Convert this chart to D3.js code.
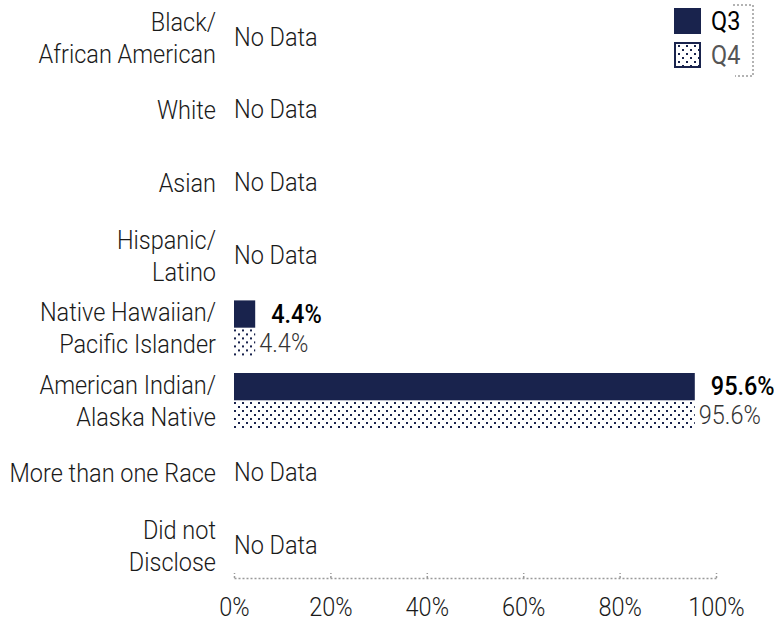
<!DOCTYPE html>
<html>
<head>
<meta charset="utf-8">
<script src="https://cdn.jsdelivr.net/npm/d3@7"></script>
<style>
  html, body { margin: 0; padding: 0; background: #fff; }
  svg { display: block; }
  text { font-family: Roboto, "Open Sans", sans-serif; }
</style>
</head>
<body>
<svg id="chart" width="774" height="622"></svg>
<script>
// Race / ethnicity breakdown, two quarters side by side
const categories = [
  "Black/\nAfrican American",
  "White",
  "Asian",
  "Hispanic/\nLatino",
  "Native Hawaiian/\nPacific Islander",
  "American Indian/\nAlaska Native",
  "More than one Race",
  "Did not\nDisclose"
];
const seriesNames = ["Q3", "Q4"];
const q3Values = [null, null, null, null, 4.4, 95.6, null, null];
const q4Values = [null, null, null, null, 4.4, 95.6, null, null];
const xTicks = [0, 20, 40, 60, 80, 100];

const NAVY = "#19234d";
const FONT_SIZE = 25;
const SX = 0.94; // horizontal squeeze to get a condensed face

const svg = d3.select("#chart");

// Patterned fill for the second series
const defs = svg.append("defs");
const pat = defs.append("pattern")
  .attr("id", "dots")
  .attr("patternUnits", "userSpaceOnUse")
  .attr("width", 8).attr("height", 8);
pat.append("rect").attr("width", 8).attr("height", 8).attr("fill", "#fff");
pat.append("rect").attr("x", 2).attr("y", 1).attr("width", 2).attr("height", 2).attr("fill", NAVY);
pat.append("rect").attr("x", 6).attr("y", 5).attr("width", 2).attr("height", 2).attr("fill", NAVY);

const x = d3.scaleLinear().domain([0, 100]).range([234, 716]);
const y = d3.scaleBand().domain(categories).range([1.7, 582.5]);
const sub = d3.scaleBand().domain(seriesNames).range([-28, 28]).paddingInner(0.05);

const rows = categories.map((c, i) => ({ cat: c, vals: [q3Values[i], q4Values[i]] }));

// helper: condensed text drawn at (tx, ty)
function ctext(parent, tx, ty, str, anchor) {
  return parent.append("text")
    .attr("transform", `translate(${tx},${ty}) scale(${SX},1)`)
    .attr("text-anchor", anchor || "start")
    .attr("dominant-baseline", "central")
    .attr("font-size", FONT_SIZE)
    .text(str);
}

const row = svg.selectAll("g.row").data(rows).join("g")
  .attr("class", "row")
  .attr("transform", d => `translate(0,${y(d.cat) + y.bandwidth() / 2})`);

// category labels, bars and value labels
row.each(function (d) {
  const g = d3.select(this);
  const lines = d.cat.split("\n");
  const lh = 32;
  lines.forEach((ln, k) => {
    ctext(g, 216, (k - (lines.length - 1) / 2) * lh, ln, "end")
      .attr("font-weight", 300).attr("fill", "#1a1a1a");
  });
  const has = d.vals.some(v => v != null);
  if (!has) {
    ctext(g, x(0), -1, "No Data", "start").attr("font-weight", 300).attr("fill", "#1a1a1a");
    return;
  }
  seriesNames.forEach((s, si) => {
    const v = d.vals[si];
    if (v == null) return;
    g.append("rect")
      .attr("x", x(0))
      .attr("y", sub(s))
      .attr("width", x(v) - x(0))
      .attr("height", sub.bandwidth())
      .attr("fill", si === 0 ? NAVY : "url(#dots)");
    const lbl = ctext(g, x(v) + (si === 0 ? 16 : 4), sub(s) + sub.bandwidth() / 2, d3.format(".1f")(v) + "%", "start");
    if (si === 0) lbl.attr("font-weight", 500).attr("fill", "#000");
    else lbl.attr("font-weight", 300).attr("fill", "#333");
  });
});

// x axis
const axis = svg.append("g")
  .attr("transform", "translate(0,578)")
  .call(d3.axisBottom(x).tickValues(xTicks).tickFormat(d => d + "%")
    .tickSizeInner(-5).tickSizeOuter(0).tickPadding(20));
axis.select(".domain").attr("stroke", "#9a9a9a").attr("stroke-width", 1.5).attr("stroke-dasharray", "2,2");
axis.selectAll(".tick line").attr("stroke", "#9a9a9a").attr("stroke-width", 1.5).attr("stroke-dasharray", "2,2");
axis.selectAll(".tick text").remove();
axis.selectAll(".tick").each(function (d) {
  ctext(d3.select(this), 0, 29, d + "%", "middle").attr("font-weight", 300).attr("fill", "#1a1a1a");
});

// legend
const legend = svg.append("g");
seriesNames.forEach((s, i) => {
  const ly = 8 + i * 34;
  legend.append("rect")
    .attr("x", i === 0 ? 674 : 675).attr("y", i === 0 ? ly : ly + 1)
    .attr("width", i === 0 ? 27 : 25).attr("height", i === 0 ? 26 : 24)
    .attr("fill", i === 0 ? NAVY : "url(#dots)")
    .attr("stroke", i === 0 ? "none" : NAVY).attr("stroke-width", 2);
  ctext(legend, 711, ly + 13, s, "start")
    .attr("font-weight", 400)
    .attr("fill", i === 0 ? "#000" : "#555");
});
legend.append("path")
  .attr("d", "M733,5H753V76H735")
  .attr("fill", "none")
  .attr("stroke", "#9a9a9a").attr("stroke-width", 1.5).attr("stroke-dasharray", "2,2");
</script>
</body>
</html>
